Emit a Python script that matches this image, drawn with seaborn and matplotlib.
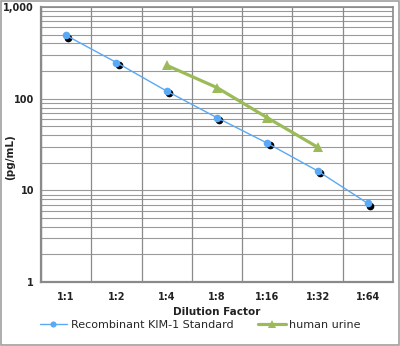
import matplotlib
matplotlib.use("Agg")
import matplotlib.pyplot as plt
import matplotlib.transforms as mtransforms
from matplotlib.patches import Rectangle
from matplotlib.ticker import FixedLocator, LogLocator, NullFormatter, FuncFormatter
import seaborn as sns
import pandas as pd

categories = ["1:1", "1:2", "1:4", "1:8", "1:16", "1:32", "1:64"]
standard_x = ["1:1", "1:2", "1:4", "1:8", "1:16", "1:32", "1:64"]
standard_y = [490, 248, 121, 62, 32.7, 16.3, 7.2]
urine_x = ["1:4", "1:8", "1:16", "1:32"]
urine_y = [231, 132, 62, 29.6]
series_names = ["Recombinant KIM-1 Standard", "human urine"]
y_ticks = [1, 10, 100, 1000]

sns.set_theme(style="white")
plt.rcParams["font.family"] = ["DejaVu Sans"]

df_std = pd.DataFrame({"pos": [categories.index(c) for c in standard_x],
                       "val": standard_y})
df_uri = pd.DataFrame({"pos": [categories.index(c) for c in urine_x],
                       "val": urine_y})

fig = plt.figure(figsize=(4.0, 3.46), dpi=100)
ax = fig.add_axes([41/400, 1-282/346, (393-41)/400, (282-7)/346])

blue = "#5aa9f5"
green = "#9bbb59"

# shadow markers (black) slightly offset
shadow = ax.transData + mtransforms.ScaledTranslation(1.6/72, -1.6/72, fig.dpi_scale_trans)
ax.plot(df_std["pos"], df_std["val"], linestyle="none", marker="o", markersize=4.5,
        color="black", transform=shadow, zorder=3)

sns.lineplot(data=df_std, x="pos", y="val", ax=ax, color=blue, linewidth=1.0,
             marker="o", markersize=5.5, markeredgewidth=0, label=series_names[0],
             zorder=4, legend=False)
sns.lineplot(data=df_uri, x="pos", y="val", ax=ax, color=green, linewidth=2.3,
             marker="^", markersize=7, markeredgewidth=0, label=series_names[1],
             zorder=4, legend=False)

ax.set_yscale("log")
ax.set_ylim(1, 1000)
ax.set_xlim(-0.5, len(categories) - 0.5)

ax.yaxis.set_major_locator(FixedLocator(y_ticks))
ax.yaxis.set_major_formatter(FuncFormatter(lambda v, p: f"{v:,.0f}"))
ax.yaxis.set_minor_locator(LogLocator(base=10, subs=range(2, 10)))
ax.yaxis.set_minor_formatter(NullFormatter())

ax.set_xticks(range(len(categories)))
ax.set_xticklabels(categories)
ax.set_xticks([i - 0.5 for i in range(len(categories) + 1)], minor=True)

ax.grid(False)
for xb in [i - 0.5 for i in range(len(categories) + 1)]:
    ax.axvline(xb, color="#8a8a8a", linewidth=0.9, zorder=1)
ax.yaxis.grid(True, which="both", color="#9a9a9a", linewidth=0.8, zorder=1)
ax.set_axisbelow(True)

ax.tick_params(axis="x", which="major", length=0, pad=7, labelsize=7)
ax.tick_params(axis="x", which="minor", length=4, width=0.9, color="#8a8a8a", direction="out")
ax.tick_params(axis="y", which="major", length=3, width=0.9, color="#8a8a8a", labelsize=7, pad=2)
ax.tick_params(axis="y", which="minor", length=0)
for lab in ax.get_xticklabels() + ax.get_yticklabels():
    lab.set_fontweight("bold")
    lab.set_color("#222222")

for side in ["left", "bottom", "right", "top"]:
    ax.spines[side].set_color("#8a8a8a")
    ax.spines[side].set_linewidth(1.2)
ax.spines["left"].set_linewidth(1.6)
ax.spines["bottom"].set_linewidth(1.6)

ax.set_xlabel("Dilution Factor", fontsize=7.5, fontweight="bold", color="#222222")
ax.xaxis.set_label_coords(0.5, -(307-282)/275)
ax.set_ylabel("(pg/mL)", fontsize=7.5, fontweight="bold", color="#222222")
ax.yaxis.set_label_coords(-(41-15)/352, (282-157)/275)

handles, labels = ax.get_legend_handles_labels()
fig.legend(handles, labels, loc="center", bbox_to_anchor=(0.5, 1-325/346), ncol=2,
           frameon=False, fontsize=8, handlelength=2.5, columnspacing=2.2,
           handletextpad=0.3, markerscale=0.8)

fig.patches.append(Rectangle((0.0015, 0.0015), 0.997, 0.997, transform=fig.transFigure,
                             fill=False, edgecolor="#a0a0a0", linewidth=1.2))

fig.savefig("out.png", dpi=100)
